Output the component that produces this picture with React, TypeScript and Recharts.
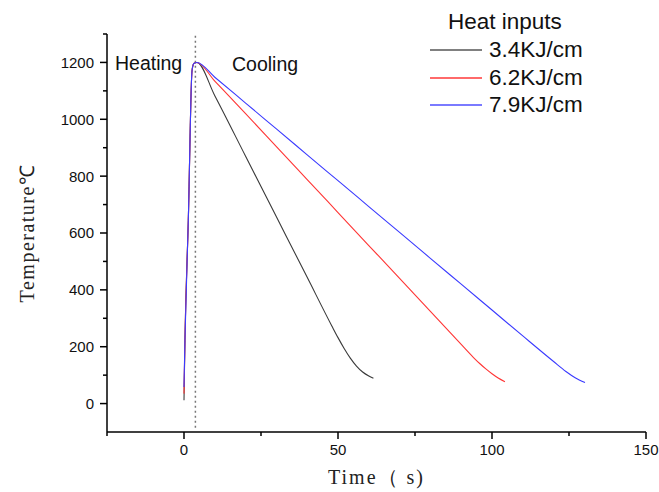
import { LineChart, Line, XAxis, YAxis, ReferenceLine, Legend } from 'recharts';

// Thermal cycles for three heat inputs (time in s, temperature in °C)
const lowTime = [0, 0.3, 1.4, 2.6, 3.2, 4.2, 10, 20, 30, 40, 48, 50, 52, 54, 56, 58, 60, 61.5];
const lowTemp = [12, 220, 645, 1170, 1196, 1200, 1083, 870, 657, 444, 273, 232, 194, 160, 132, 111, 97, 89];

const midTime = [0, 0.3, 1.4, 2.6, 3.2, 4.2, 10, 20, 30, 40, 50, 60, 70, 80, 90, 94, 96, 98, 100, 102, 104.2];
const midTemp = [35, 220, 645, 1170, 1196, 1200, 1134, 1020, 904, 788, 672, 556, 440, 324, 208, 162, 141, 122, 105, 90, 77];

const highTime = [0, 0.3, 1.4, 2.6, 3.2, 4.2, 10, 20, 30, 40, 50, 60, 70, 80, 90, 100, 110, 120, 124, 127, 130.2];
const highTemp = [58, 220, 645, 1170, 1196, 1200, 1148, 1057, 966, 875, 784, 693, 602, 511, 420, 329, 238, 148, 113, 91, 74];

const seriesNames = ['3.4KJ/cm', '6.2KJ/cm', '7.9KJ/cm'];
const seriesColors = ['#3a3a3a', '#ff3535', '#3a3aff'];
const legendColors = ['#808080', '#ff6a6a', '#7a7aff'];

const xTicks = [-25, 0, 25, 50, 75, 100, 125, 150];
const xLabeled = [0, 50, 100, 150];
const yTicks = [0, 100, 200, 300, 400, 500, 600, 700, 800, 900, 1000, 1100, 1200, 1300];
const yLabeled = [0, 200, 400, 600, 800, 1000, 1200];

const splitTime = 3.7;

const toPoints = (ts: number[], vs: number[]) => ts.map((t, i) => ({ t, T: vs[i] }));

const series = [
  toPoints(lowTime, lowTemp),
  toPoints(midTime, midTemp),
  toPoints(highTime, highTemp),
];

const sans = '"Liberation Sans", Arial, sans-serif';
const serif = '"Liberation Serif", "Times New Roman", serif';

function XTick(props: any) {
  const { x, y, payload } = props;
  const major = xLabeled.includes(payload.value);
  const len = major ? 7 : 4;
  return (
    <g>
      <line x1={x} x2={x} y1={y} y2={y + len} stroke="#000" strokeWidth={1.5} />
      {major && (
        <text x={x} y={y + 23} textAnchor="middle" fontSize={15} fontFamily={sans} fill="#111">
          {payload.value}
        </text>
      )}
    </g>
  );
}

function YTick(props: any) {
  const { x, y, payload } = props;
  const major = yLabeled.includes(payload.value);
  const len = major ? 7 : 4;
  return (
    <g>
      <line x1={x} x2={x - len} y1={y} y2={y} stroke="#000" strokeWidth={1.5} />
      {major && (
        <text x={x - 13} y={y + 5.4} textAnchor="end" fontSize={15} fontFamily={sans} fill="#111">
          {payload.value}
        </text>
      )}
    </g>
  );
}

function HeatLegend() {
  return (
    <div style={{ position: 'relative', width: 240, height: 120, fontFamily: sans, color: '#111' }}>
      <div style={{ position: 'absolute', left: 18, top: 9, fontSize: 22.5, lineHeight: '26px', whiteSpace: 'nowrap' }}>
        Heat inputs
      </div>
      {seriesNames.map((name, i) => (
        <div key={name} style={{ position: 'absolute', left: 0, top: 36 + i * 27.5, height: 28, display: 'flex', alignItems: 'center' }}>
          <div style={{ width: 52, height: 2, background: legendColors[i] }} />
          <span style={{ marginLeft: 7, fontSize: 22.5, whiteSpace: 'nowrap' }}>{name}</span>
        </div>
      ))}
    </div>
  );
}

export default function App() {
  return (
    <div style={{ position: 'absolute', left: 0, top: 0, width: 659, height: 492, background: '#fff', overflow: 'hidden' }}>
      <LineChart width={659} height={492} margin={{ top: 34, right: 13, bottom: 10, left: 47 }}>
        <XAxis
          dataKey="t"
          type="number"
          domain={[-25, 150]}
          ticks={xTicks}
          allowDuplicatedCategory={false}
          height={50}
          tickSize={0}
          tickMargin={0}
          tick={<XTick />}
          tickLine={false}
          axisLine={{ stroke: '#000', strokeWidth: 1.5 }}
          label={{
            content: (p: any) => {
              const vb = p.viewBox;
              return (
                <text
                  x={vb.x + vb.width / 2}
                  y={vb.y + 52}
                  textAnchor="middle"
                  fontSize={20}
                  fontFamily={serif}
                  letterSpacing={2}
                  fill="#222"
                >
                  Time（ s)
                </text>
              );
            },
          }}
        />
        <YAxis
          dataKey="T"
          type="number"
          domain={[-100, 1300]}
          ticks={yTicks}
          width={60}
          tickSize={0}
          tickMargin={0}
          tick={<YTick />}
          tickLine={false}
          axisLine={{ stroke: '#000', strokeWidth: 1.5 }}
          label={{
            content: (p: any) => {
              const vb = p.viewBox;
              const cx = vb.x - 20;
              const cy = vb.y + vb.height / 2;
              return (
                <text
                  x={cx}
                  y={cy}
                  transform={`rotate(-90 ${cx} ${cy})`}
                  textAnchor="middle"
                  dominantBaseline="central"
                  fontSize={20}
                  fontFamily={serif}
                  letterSpacing={1.5}
                  fill="#222"
                >
                  Temperature℃
                </text>
              );
            },
          }}
        />
        <ReferenceLine
          segment={[{ x: splitTime, y: -85 }, { x: splitTime, y: 1300 }]}
          stroke="#777"
          strokeWidth={1.5}
          strokeDasharray="2 3"
        />
        {series.map((pts, i) => (
          <Line
            key={seriesNames[i]}
            data={pts}
            dataKey="T"
            name={seriesNames[i]}
            type="monotone"
            stroke={seriesColors[i]}
            strokeWidth={1.1}
            dot={false}
            activeDot={false}
            isAnimationActive={false}
          />
        ))}
        <Legend
          layout="horizontal"
          verticalAlign="middle"
          align="center"
          content={<HeatLegend />}
          wrapperStyle={{ left: 430, top: 0, width: 240, height: 120 }}
        />
      </LineChart>
      <div style={{ position: 'absolute', left: 115, top: 53, fontFamily: sans, fontSize: 19.5, lineHeight: '20px', color: '#111' }}>
        Heating
      </div>
      <div style={{ position: 'absolute', left: 232, top: 54, fontFamily: sans, fontSize: 19.5, lineHeight: '20px', color: '#111' }}>
        Cooling
      </div>
    </div>
  );
}
